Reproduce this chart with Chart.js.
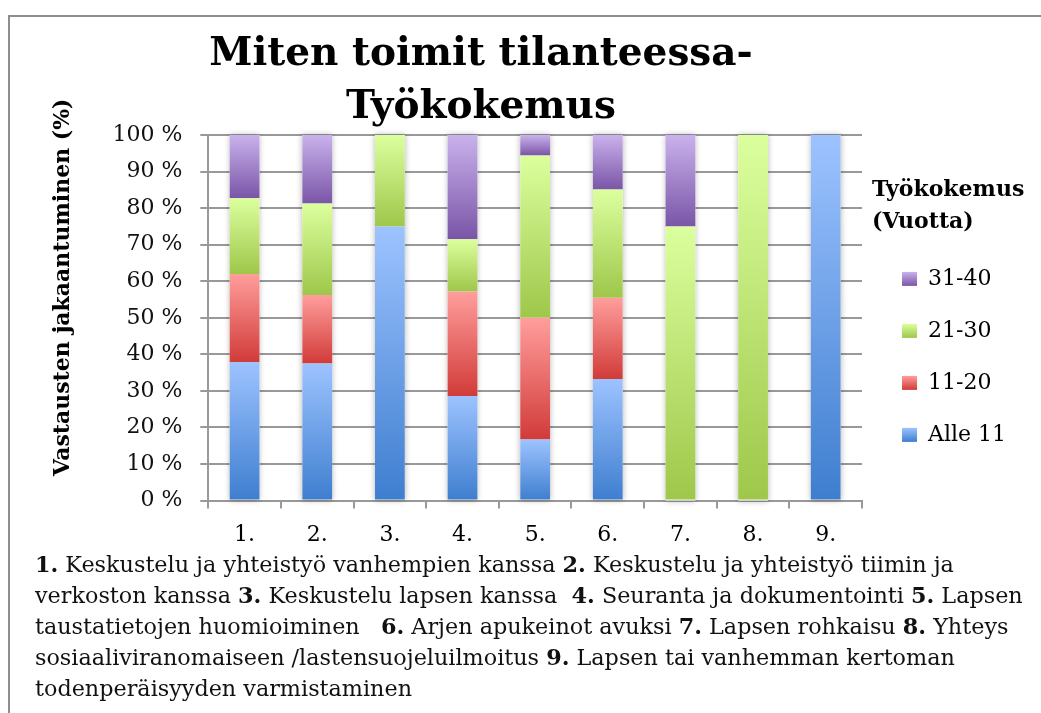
<!DOCTYPE html>
<html>
<head>
<meta charset="utf-8">
<script src="https://cdn.jsdelivr.net/npm/chart.js@4"></script>
<style>
  html, body { margin: 0; padding: 0; background: #fff; }
  body { width: 1041px; height: 713px; position: relative; overflow: hidden; }
  #frame { position: absolute; left: 8px; top: 15px; width: 1100px; height: 800px; border-left: 2px solid #8e8e8e; border-top: 2px solid #8e8e8e; }
  #chart { position: absolute; left: 0; top: 0; }
  #notes { position: absolute; left: 35px; top: 549px; font-family: "DejaVu Serif", serif; font-size: 22.3px; line-height: 31px; color: #111; white-space: nowrap; }
</style>
</head>
<body>
<div id="frame"></div>
<canvas id="chart" width="1041" height="573"></canvas>
<div id="notes">
<b>1.</b> Keskustelu ja yhteistyö vanhempien kanssa <b>2.</b> Keskustelu ja yhteistyö tiimin ja<br>
verkoston kanssa <b>3.</b> Keskustelu lapsen kanssa&nbsp; <b>4.</b> Seuranta ja dokumentointi <b>5.</b> Lapsen<br>
taustatietojen huomioiminen &nbsp; <b>6.</b> Arjen apukeinot avuksi <b>7.</b> Lapsen rohkaisu <b>8.</b> Yhteys<br>
sosiaaliviranomaiseen /lastensuojeluilmoitus <b>9.</b> Lapsen tai vanhemman kertoman<br>
todenperäisyyden varmistaminen
</div>
<script>
const categories = ['1.', '2.', '3.', '4.', '5.', '6.', '7.', '8.', '9.'];
const groups = ['Alle 11', '11-20', '21-30', '31-40'];
const alle11 = [37.9, 37.5, 75, 28.6, 16.7, 33.3, 0, 0, 100];
const v11to20 = [24.1, 18.75, 0, 28.6, 33.3, 22.2, 0, 0, 0];
const v21to30 = [20.7, 25, 25, 14.3, 44.4, 29.6, 75, 100, 0];
const v31to40 = [17.3, 18.75, 0, 28.5, 5.6, 14.9, 25, 0, 0];
const yTicks = [0, 10, 20, 30, 40, 50, 60, 70, 80, 90, 100];

const series = [alle11, v11to20, v21to30, v31to40];
const shades = [
    {light: '#9dc3ff', dark: '#3e7ecf', mid: '#6b9fe8'},
    {light: '#ff9e9c', dark: '#d13b39', mid: '#ea6a68'},
    {light: '#dcff9e', dark: '#9ec74a', mid: '#c0e376'},
    {light: '#c9b2ec', dark: '#7a55a7', mid: '#a084cb'}
];
const serif = 'DejaVu Serif';
const gridGray = '#999';

function shade(c, s, top, bot) {
    const g = c.createLinearGradient(0, top, 0, bot);
    g.addColorStop(0, s.light);
    g.addColorStop(1, s.dark);
    return g;
}

// vertical gradient per stacked segment, light at top and dark at the bottom
function segmentFill(d) {
    return ctx => {
        const s = shades[d];
        const y = ctx.chart.scales.y;
        if (ctx.type !== 'data' || !y) return s.mid;
        const i = ctx.dataIndex;
        let lo = 0;
        for (let k = 0; k < d; k++) lo += series[k][i];
        const hi = lo + series[d][i];
        const top = y.getPixelForValue(hi), bot = y.getPixelForValue(lo);
        if (!isFinite(top) || !isFinite(bot) || bot - top < 1) return s.light;
        return shade(ctx.chart.ctx, s, top, bot);
    };
}

const barShadow = {
    id: 'barShadow',
    beforeDatasetsDraw(chart) {
        const c = chart.ctx;
        const metas = chart.getSortedVisibleDatasetMetas();
        c.save();
        c.shadowColor = 'rgba(0,0,0,0.3)';
        c.shadowBlur = 6;
        c.fillStyle = '#fff';
        categories.forEach((_, i) => {
            const bars = metas.map(m => m.data[i]);
            const top = Math.min(...bars.map(b => b.y));
            const bottom = Math.max(...bars.map(b => b.base));
            c.fillRect(bars[0].x - bars[0].width / 2, top, bars[0].width, bottom - top);
        });
        c.restore();
    }
};

// title sits a little left of the canvas centre, legend a bit right of the plot
const nudge = {
    id: 'nudge',
    afterLayout(chart) {
        chart.titleBlock.left = 0;
        chart.titleBlock.right = 962;
        const lg = chart.legend;
        lg.left += 10;
        lg.right = chart.width;
        lg.width = lg.right - lg.left;
    },
    beforeDraw(chart) {
        // small gradients in the legend boxes too
        const lg = chart.legend;
        (lg.legendItems || []).forEach((item, k) => {
            const hb = lg.legendHitBoxes[k];
            if (hb) item.fillStyle = shade(chart.ctx, shades[item.datasetIndex], hb.top + 4, hb.top + 18);
        });
    }
};

new Chart(document.getElementById('chart'), {
    type: 'bar',
    data: {
        labels: categories,
        datasets: series.map((vals, d) => ({
            label: groups[d],
            data: vals,
            backgroundColor: segmentFill(d),
            borderWidth: 0,
            categoryPercentage: 1,
            barPercentage: 0.41
        }))
    },
    options: {
        responsive: false,
        animation: false,
        devicePixelRatio: 1,
        layout: { padding: { left: 46, right: 35, top: 0, bottom: 12 } },
        plugins: {
            title: {
                display: true,
                text: ['Miten toimit tilanteessa-', 'Työkokemus'],
                color: '#000',
                font: { family: serif, size: 39, weight: 'bold', lineHeight: 1.36 },
                padding: { top: 28, bottom: 1 }
            },
            legend: {
                position: 'right',
                align: 'start',
                reverse: true,
                title: {
                    display: true,
                    text: ['Työkokemus', '(Vuotta)'],
                    position: 'start',
                    color: '#000',
                    font: { family: serif, size: 22, weight: 'bold', lineHeight: 1.45 },
                    padding: { top: 179, bottom: 27 }
                },
                labels: {
                    boxWidth: 15,
                    boxHeight: 14,
                    padding: 30,
                    color: '#000',
                    font: { family: serif, size: 22 }
                }
            },
            tooltip: { enabled: false }
        },
        scales: {
            x: {
                stacked: true,
                grid: { drawOnChartArea: false, drawTicks: true, tickLength: 8, color: gridGray, lineWidth: 2 },
                border: { display: true, color: gridGray, width: 2 },
                ticks: { color: '#000', padding: 13, font: { family: serif, size: 22 } }
            },
            y: {
                stacked: true,
                min: 0,
                max: 100,
                afterBuildTicks: axis => { axis.ticks = yTicks.map(v => ({ value: v })); },
                grid: { color: gridGray, lineWidth: 2, drawTicks: true, tickLength: 8 },
                border: { display: true, color: gridGray, width: 2 },
                ticks: { color: '#111', padding: 18, font: { family: serif, size: 22 }, callback: v => v + ' %' },
                title: {
                    display: true,
                    text: '        Vastausten jakaantuminen (%)',
                    color: '#000',
                    font: { family: serif, size: 22, weight: 'bold', lineHeight: 1.2 },
                    padding: { top: 4, bottom: 18 }
                }
            }
        }
    },
    plugins: [barShadow, nudge]
});
</script>
</body>
</html>
